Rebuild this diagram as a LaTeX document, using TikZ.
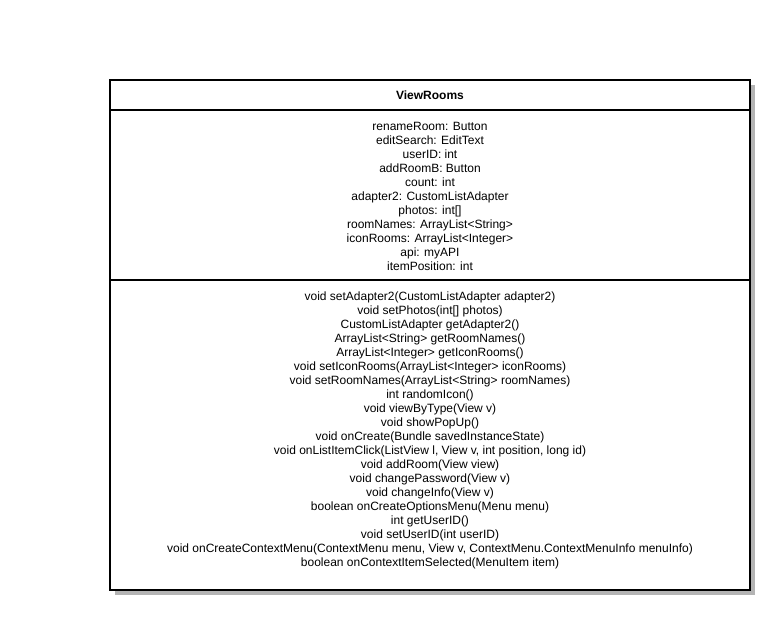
\documentclass[tikz,border=0pt]{standalone}
\usepackage{fontspec}
\setmainfont{Liberation Sans}
\definecolor{shadowgray}{HTML}{B4B4B4}
\tikzstyle{classbox}=[draw=black, line width=2pt, fill=white]
\tikzstyle{shadow}=[fill=shadowgray]
\tikzstyle{divider}=[line width=2pt]
\tikzstyle{member}=[align=center, inner sep=0pt, font=\fontsize{12}{14}\selectfont]
\tikzstyle{classname}=[inner sep=0pt, font=\fontsize{12}{14}\selectfont\bfseries]

\begin{document}
\begin{tikzpicture}[x=1pt, y=-1pt]
      \useasboundingbox (0, 0) rectangle (778, 618);
      \fill[shadow] (115, 85) rectangle (755, 595);
      \draw[classbox] (110, 80) rectangle (750, 590);
      \coordinate (titleL) at (110, 110);
      \coordinate (titleR) at (750, 110);
      \coordinate (attrL) at (110, 280);
      \coordinate (attrR) at (750, 280);
      \draw[divider] (titleL) -- (titleR);
      \draw[divider] (attrL) -- (attrR);
      \node[classname] (name) at (430, 95.5) {ViewRooms};
      \node[member] (attrs) at (430, 196) {renameRoom: Button\\
        editSearch: EditText\\
        userID: int\\
        addRoomB: Button\\
        count: int\\
        adapter2: CustomListAdapter\\
        photos: int[]\\
        roomNames: ArrayList<String>\\
        iconRooms: ArrayList<Integer>\\
        api: myAPI\\
        itemPosition: int};
      \node[member] (methods) at (430, 430.5) {void setAdapter2(CustomListAdapter adapter2)\\
        void setPhotos(int[] photos)\\
        CustomListAdapter getAdapter2()\\
        ArrayList<String> getRoomNames()\\
        ArrayList<Integer> getIconRooms()\\
        void setIconRooms(ArrayList<Integer> iconRooms)\\
        void setRoomNames(ArrayList<String> roomNames)\\
        int randomIcon()\\
        void viewByType(View v)\\
        void showPopUp()\\
        void onCreate(Bundle savedInstanceState)\\
        void onListItemClick(ListView l, View v, int position, long id)\\
        void addRoom(View view)\\
        void changePassword(View v)\\
        void changeInfo(View v)\\
        boolean onCreateOptionsMenu(Menu menu)\\
        int getUserID()\\
        void setUserID(int userID)\\
        void onCreateContextMenu(ContextMenu menu, View v, ContextMenu.ContextMenuInfo menuInfo)\\
        boolean onContextItemSelected(MenuItem item)};
    \end{tikzpicture}
\end{document}
